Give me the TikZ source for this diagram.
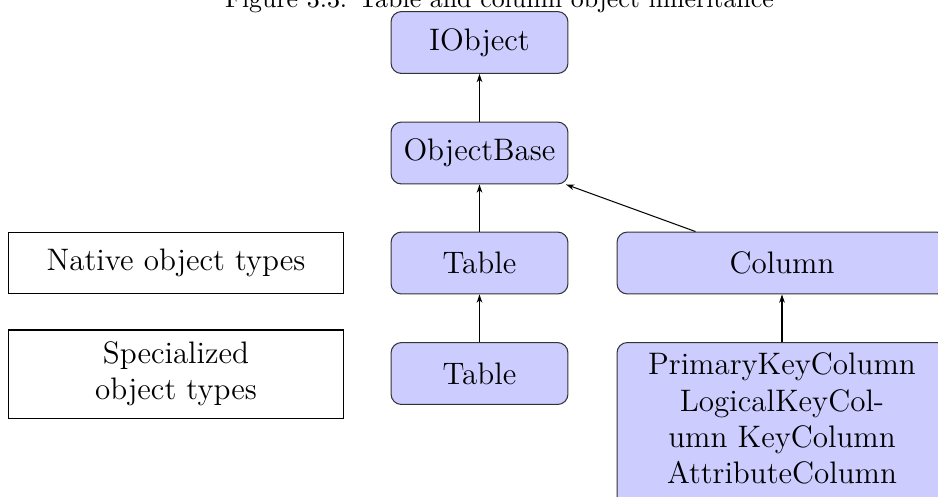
\documentclass[tikz,border=0pt]{standalone}
\usetikzlibrary{arrows.meta}
\begin{document}
\begin{tikzpicture}[x=0.3861pt,y=-0.3861pt,
  cls/.style={draw=black!80, fill=blue!20, rounded corners=4pt, font=\large,
    minimum width=68.3pt, minimum height=23.9pt, align=center, inner sep=4pt},
  widecls/.style={cls, minimum width=127.4pt},
  legend/.style={draw=black, font=\large, minimum width=129pt,
    minimum height=23.9pt, align=center, inner sep=4pt},
  inherit/.style={-{Stealth[length=3.2pt,width=2.2pt]}, line width=0.4pt}]
  \useasboundingbox (0,0) rectangle (938,496);

  % caption
  \node[anchor=base, inner sep=0pt] (title) at (499.5,7)
    {Figure 3.3: Table and column object inheritance};

  % class hierarchy
  \node[cls] (iobj) at (479.5,42.5) {IObject};
  \node[cls] (obase) at (479.5,153) {ObjectBase};
  \node[cls] (table) at (479.5,263) {Table};
  \node[widecls] (column) at (782,263) {Column};
  \node[cls] (stable) at (479.5,373.5) {Table};
  \node[widecls, anchor=north, text depth=6pt] (scol) at (782,342)
    {PrimaryKeyColumn\\LogicalKeyCol-\\umn KeyColumn\\AttributeColumn};

  % row labels
  \node[legend] (native) at (176,263) {Native object types};
  \node[legend, minimum height=34pt] (special) at (176,374)
    {Specialized\\object types};

  % inheritance arrows
  \draw[inherit] (obase) -- (iobj);
  \draw[inherit] (table) -- (obase);
  \draw[inherit] (column) -- (obase);
  \draw[inherit] (stable) -- (table);
  \draw[inherit] (scol) -- (column);
\end{tikzpicture}
\end{document}
